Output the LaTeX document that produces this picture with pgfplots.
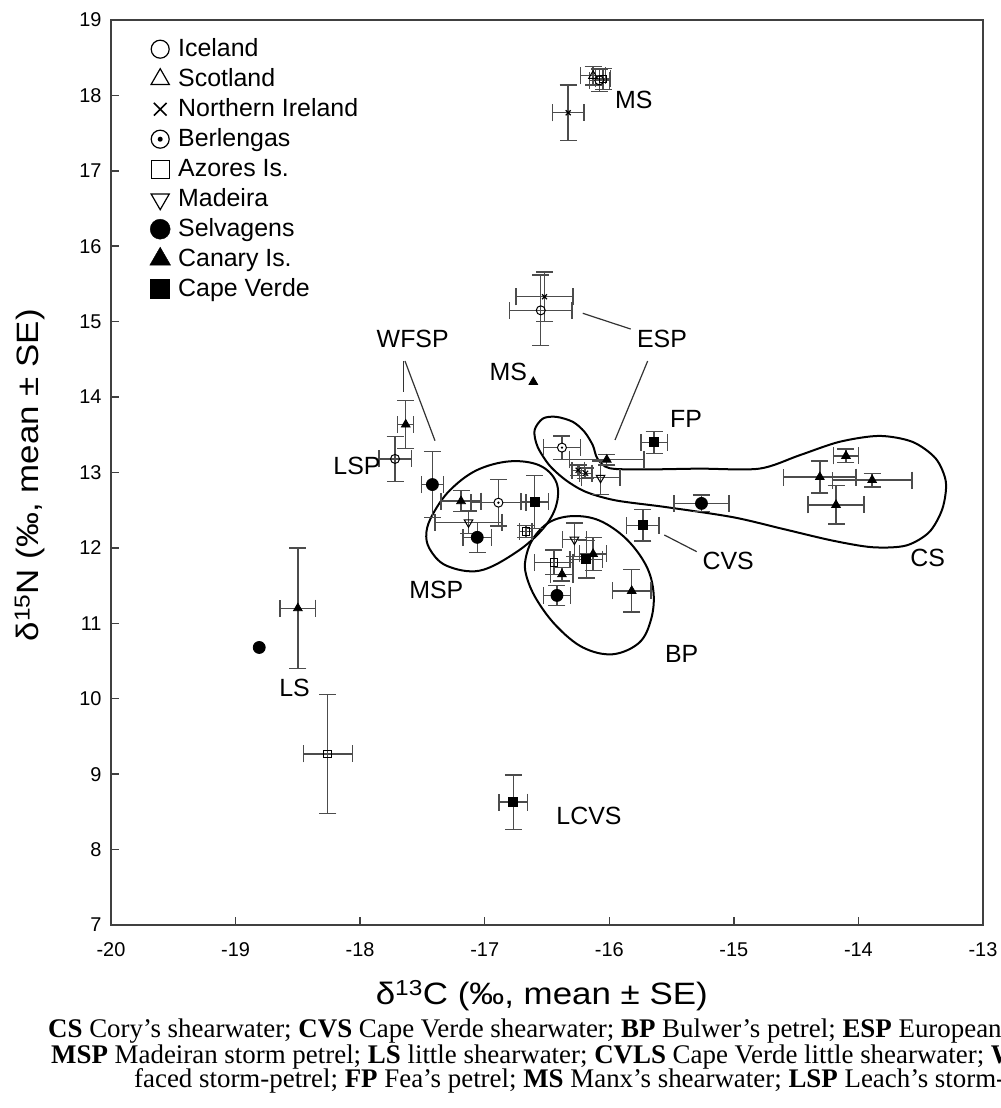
\documentclass[border=0pt]{standalone}
\usepackage{fontspec}
\setmainfont{Liberation Sans}
\newfontfamily\capfont{Liberation Serif}
\newfontfamily\labfont[FakeStretch=1.13]{Liberation Sans}
\usepackage{pgfplots}
\pgfplotsset{compat=1.18}
\usepackage{pgfplotstable}

\pgfdeclareplotmark{odot}{%
  \pgfpathcircle{\pgfpointorigin}{\pgfplotmarksize}%
  \pgfusepathqfillstroke
  \begin{pgfscope}%
  \pgfsetfillcolor{black}%
  \pgfpathcircle{\pgfpointorigin}{0.28\pgfplotmarksize}%
  \pgfusepathqfill
  \end{pgfscope}%
}

\pgfplotstableread{
x y ex ey
-16.55 15.15 0.25 0.47
-17.72 13.18 0.13 0.30
-16.08 18.20 0.08 0.15
}\iceland
\pgfplotstableread{
x y ex ey
-16.13 18.26 0.10 0.12
}\scotland
\pgfplotstableread{
x y ex ey
-16.33 17.77 0.127 0.366
-16.52 15.33 0.23 0.33
-16.25 13.03 0.05 0.07
-16.19 12.99 0.05 0.07
}\nireland
\pgfplotstableread{
x y ex ey
-16.38 13.33 0.147 0.155
-16.89 12.60 0.22 0.31
}\berlengas
\pgfplotstableread{
x y ex ey
-16.05 18.22 0.06 0.14
-16.67 12.22 0.05 0.08
-16.445 11.81 0.155 0.16
-18.26 9.27 0.197 0.79
}\azores
\pgfplotstableread{
x y ex ey
-17.13 12.34 0.27 0.15
-16.07 12.93 0.155 0.22
-16.28 12.11 0.095 0.22
}\madeira
\pgfplotstableread{
x y ex ey
-17.42 12.84 0.087 0.44
-17.06 12.14 0.114 0.20
-16.42 11.37 0.107 0.13
-15.26 12.59 0.22 0.11
}\selvagens
\pgfplotstableread{
x y
-18.81 10.68
}\selvagensnb
\pgfplotstableread{
x y ex ey
-17.634 13.636 0.064 0.32
-17.19 12.62 0.16 0.14
-16.02 13.17 0.30 0.07
-16.38 11.65 0.09 0.09
-16.13 11.92 0.11 0.22
-15.82 11.43 0.155 0.28
-14.10 13.22 0.10 0.09
-14.31 12.94 0.29 0.21
-13.89 12.90 0.32 0.09
-14.18 12.57 0.225 0.255
-18.50 11.20 0.143 0.80
}\canary
\pgfplotstableread{
x y
-16.61 14.20
}\canarynb
\pgfplotstableread{
x y ex ey
-16.60 12.61 0.11 0.35
-15.64 13.40 0.107 0.145
-15.73 12.30 0.13 0.21
-16.185 11.85 0.13 0.25
-16.77 8.63 0.114 0.36
}\capeverde

\pgfplotsset{
  eb/.style={forget plot, only marks,
    error bars/x dir=both, error bars/x explicit, error bars/y dir=both, error bars/y explicit,
    error bars/error bar style={line width=1.4bp, black!70},
    error bars/error mark options={rotate=90, mark size=8.5bp, line width=1.4bp, black!70}},
  openmk/.style={mark options={fill=white, draw=black, line width=1bp}},
  fillmk/.style={mark options={fill=black, draw=black, line width=0.8bp}},
}

\begin{document}
\begin{tikzpicture}
\begin{axis}[
  at={(0,0)}, anchor=south west,
  scale only axis, width=872bp, height=905bp,
  xmin=-20, xmax=-13, ymin=7, ymax=19,
  xtick={-20,-19,...,-13}, ytick={7,8,...,19},
  tick pos=left, tick align=inside,
  major tick length=8bp,
  axis line style={black!75, line width=1.5bp},
  tick style={black!75, line width=1.5bp},
  ticklabel style={font=\fontsize{20}{24}\selectfont, black},
  xticklabel style={yshift=-14bp},
  yticklabel style={xshift=-6bp},
  /pgf/number format/assume math mode=true,
  xlabel={δ\textsuperscript{13}C (‰, mean ± SE)},
  ylabel={δ\textsuperscript{15}N (‰, mean ± SE)},
  label style={font=\labfont\fontsize{31}{36}\selectfont},
  xlabel style={at={(axis description cs:0.494,-0.0785)}, anchor=center},
  ylabel style={at={(axis description cs:-0.093,0.497)}, anchor=center},
  clip=false,
  legend cell align=left,
  legend image code/.code={%
    \begin{pgfinterruptboundingbox}%
    \draw[mark repeat=2,mark phase=2,#1] plot coordinates {(0bp,0bp)(10bp,0bp)(20bp,0bp)};%
    \end{pgfinterruptboundingbox}%
    \path[draw=none, fill=none] (0bp,-1bp) rectangle (28bp,1bp);},
  legend style={at={(0,1)}, anchor=north west, xshift=39bp, yshift=-15bp,
    draw=none, fill=none, inner sep=0pt, row sep=2bp,
    font=\fontsize{25}{30}\selectfont,
    nodes={inner sep=0bp, text height=21bp, text depth=7bp}},
]
\addlegendimage{only marks, mark=o, mark size=9bp, mark options={fill=white, line width=1.2bp}}
\addlegendentry{Iceland}
\addlegendimage{only marks, mark=triangle, mark size=10.5bp, mark options={fill=white, line width=1.2bp}}
\addlegendentry{Scotland}
\addlegendimage{only marks, mark=x, mark size=9bp, mark options={line width=1.6bp}}
\addlegendentry{Northern Ireland}
\addlegendimage{only marks, mark=odot, mark size=9bp, mark options={fill=white, line width=1.2bp}}
\addlegendentry{Berlengas}
\addlegendimage{only marks, mark=square, mark size=9bp, mark options={fill=white, line width=1.2bp}}
\addlegendentry{Azores Is.}
\addlegendimage{only marks, mark=triangle, mark size=10.5bp, mark options={fill=white, line width=1.2bp, rotate=180}}
\addlegendentry{Madeira}
\addlegendimage{only marks, mark=*, mark size=10bp, mark options={fill=black}}
\addlegendentry{Selvagens}
\addlegendimage{only marks, mark=triangle*, mark size=12bp, mark options={fill=black}}
\addlegendentry{Canary Is.}
\addlegendimage{only marks, mark=square*, mark size=9.5bp, mark options={fill=black}}
\addlegendentry{Cape Verde}

% group outlines
\draw[line width=2bp] plot[smooth cycle, tension=0.6] coordinates {
 (-17.468,12.209) (-17.415,12.452) (-17.281,12.762) (-17.067,13.028)
 (-16.800,13.148) (-16.560,13.094) (-16.426,12.874) (-16.426,12.563)
 (-16.533,12.253) (-16.747,11.943) (-17.041,11.698) (-17.308,11.765)
 (-17.442,11.987)};
\draw[line width=2bp] plot[smooth cycle, tension=0.6] coordinates {
 (-16.672,11.854) (-16.613,12.120) (-16.480,12.342) (-16.293,12.422)
 (-16.079,12.363) (-15.864,12.120) (-15.704,11.765) (-15.645,11.411)
 (-15.664,11.056) (-15.758,10.746) (-15.972,10.590) (-16.212,10.680)
 (-16.426,10.967) (-16.586,11.322) (-16.666,11.632)};
\draw[line width=2bp] plot[smooth cycle, tension=0.5] coordinates {
 (-16.600,13.560) (-16.533,13.715) (-16.426,13.738) (-16.293,13.672)
 (-16.199,13.539) (-16.132,13.360) (-16.095,13.184) (-15.998,13.057)
 (-15.704,13.041) (-15.277,13.051) (-14.796,13.051) (-14.475,13.227)
 (-14.154,13.406) (-13.833,13.485) (-13.566,13.406) (-13.379,13.184)
 (-13.298,12.874) (-13.326,12.519) (-13.432,12.209) (-13.619,12.031)
 (-13.887,12.009) (-14.208,12.097) (-14.609,12.253) (-15.010,12.408)
 (-15.544,12.541) (-15.945,12.629) (-16.185,12.741) (-16.346,12.895)
 (-16.480,13.094) (-16.576,13.343)};

% leader lines
\draw[black!80, line width=1.2bp] (axis cs:-16.213,15.111) -- (axis cs:-15.828,14.902);
\draw[black!80, line width=1.2bp] (axis cs:-15.692,14.478) -- (axis cs:-15.954,13.431);
\draw[black!80, line width=1.2bp] (axis cs:-17.653,14.478) -- (axis cs:-17.653,14.063);
\draw[black!80, line width=1.2bp] (axis cs:-17.640,14.478) -- (axis cs:-17.399,13.421);
\draw[black!80, line width=1.2bp] (axis cs:-15.558,12.171) -- (axis cs:-15.298,11.950);

% data
\addplot[eb, mark=o, mark size=4.5bp, openmk] table[x=x, y=y, x error=ex, y error=ey] {\iceland};
\addplot[eb, mark=triangle, mark size=5bp, openmk] table[x=x, y=y, x error=ex, y error=ey] {\scotland};
\addplot[eb, mark=x, mark size=3.5bp, mark options={line width=1.2bp}] table[x=x, y=y, x error=ex, y error=ey] {\nireland};
\addplot[eb, mark=odot, mark size=4.5bp, openmk] table[x=x, y=y, x error=ex, y error=ey] {\berlengas};
\addplot[eb, mark=square, mark size=3.8bp, openmk] table[x=x, y=y, x error=ex, y error=ey] {\azores};
\addplot[eb, mark=triangle, mark size=5bp, mark options={fill=white, draw=black, line width=1bp, rotate=180}] table[x=x, y=y, x error=ex, y error=ey] {\madeira};
\addplot[eb, mark=*, mark size=6bp, fillmk] table[x=x, y=y, x error=ex, y error=ey] {\selvagens};
\addplot[forget plot, only marks, mark=*, mark size=6bp, fillmk] table[x=x, y=y] {\selvagensnb};
\addplot[eb, mark=triangle*, mark size=5bp, fillmk] table[x=x, y=y, x error=ex, y error=ey] {\canary};
\addplot[forget plot, only marks, mark=triangle*, mark size=5bp, fillmk] table[x=x, y=y] {\canarynb};
\addplot[eb, mark=square*, mark size=4.5bp, fillmk] table[x=x, y=y, x error=ex, y error=ey] {\capeverde};

% group labels
\begin{scope}[every node/.style={font=\fontsize{25}{30}\selectfont, inner sep=0pt}]
\node at (axis cs:-15.803,17.946) {MS};
\node at (axis cs:-15.577,14.767) {ESP};
\node at (axis cs:-17.578,14.767) {WFSP};
\node at (axis cs:-16.811,14.337) {MS};
\node at (axis cs:-15.383,13.713) {FP};
\node at (axis cs:-18.025,13.086) {LSP};
\node at (axis cs:-17.389,11.438) {MSP};
\node at (axis cs:-15.045,11.829) {CVS};
\node at (axis cs:-15.419,10.591) {BP};
\node at (axis cs:-13.445,11.862) {CS};
\node at (axis cs:-18.527,10.149) {LS};
\node at (axis cs:-16.163,8.448) {LCVS};
\end{scope}
\end{axis}

\begin{scope}[every node/.style={anchor=base west, inner sep=0pt, font=\capfont\fontsize{27}{30}\selectfont}]
\node at (-63bp,-112bp) {\textbf{CS} Cory’s shearwater; \textbf{CVS} Cape Verde shearwater; \textbf{BP} Bulwer’s petrel; \textbf{ESP} European storm-petrel;};
\node at (-60bp,-138bp) {\textbf{MSP} Madeiran storm petrel; \textbf{LS} little shearwater; \textbf{CVLS} Cape Verde little shearwater; \textbf{WFSP} White-};
\node at (23bp,-162bp) {faced storm-petrel; \textbf{FP} Fea’s petrel; \textbf{MS} Manx’s shearwater; \textbf{LSP} Leach’s storm-petrel};
\end{scope}

\pgfresetboundingbox
\useasboundingbox (-111bp,-183bp) rectangle (890bp,925bp);
\end{tikzpicture}
\end{document}
